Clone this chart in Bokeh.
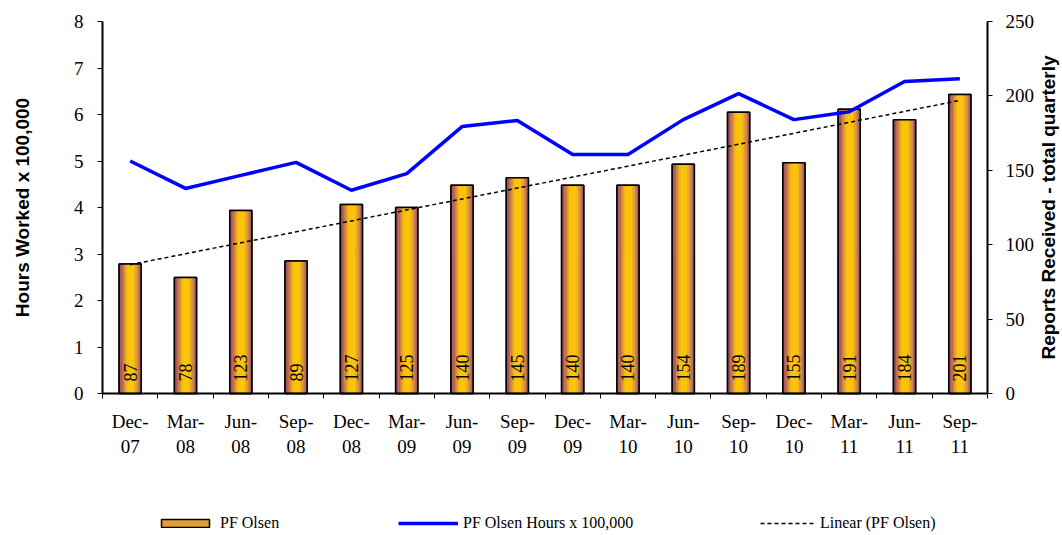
import math
import numpy as np
from bokeh.plotting import figure
from bokeh.models import Range1d, LinearAxis, FixedTicker, Legend, LegendItem, Label
from bokeh.core.properties import value
from bokeh.embed import file_html
from bokeh.resources import INLINE

categories = ["Dec-07", "Mar-08", "Jun-08", "Sep-08", "Dec-08", "Mar-09", "Jun-09", "Sep-09",
              "Dec-09", "Mar-10", "Jun-10", "Sep-10", "Dec-10", "Mar-11", "Jun-11", "Sep-11"]
tick_labels = ["Dec-\n07", "Mar-\n08", "Jun-\n08", "Sep-\n08", "Dec-\n08", "Mar-\n09", "Jun-\n09", "Sep-\n09",
               "Dec-\n09", "Mar-\n10", "Jun-\n10", "Sep-\n10", "Dec-\n10", "Mar-\n11", "Jun-\n11", "Sep-\n11"]
reports = [87, 78, 123, 89, 127, 125, 140, 145, 140, 140, 154, 189, 155, 191, 184, 201]
hours = [5.0, 4.41, 4.69, 4.97, 4.37, 4.73, 5.74, 5.87, 5.14, 5.14, 5.89, 6.45, 5.89, 6.06, 6.71, 6.77]
left_ticks = [0, 1, 2, 3, 4, 5, 6, 7, 8]
right_ticks = [0, 50, 100, 150, 200, 250]
LEFT_MAX = 8
RIGHT_MAX = 250
left_title = "Hours Worked x 100,000"
right_title = "Reports Received - total quarterly"

n = len(categories)
centers = np.arange(n) + 0.5
BAR_W = 0.4

SERIF = "Liberation Serif"
SANS = "Liberation Sans"

# canvas and plot-area placement (pixels)
W, H = 1062, 535
PL, PR = 102, 987        # left / right axis columns
PT, PZ = 21, 393         # top tick row / zero row
ppx = (PR - PL) / n      # pixels per category
ppy = (PZ - PT) / LEFT_MAX
ppr = (PZ - PT) / RIGHT_MAX

p = figure(width=W, height=H,
           x_range=Range1d(-PL / ppx, n + (W - PR) / ppx),
           y_range=Range1d(-(H - PZ) / ppy, LEFT_MAX + PT / ppy),
           output_backend="svg", toolbar_location=None,
           min_border_left=0, min_border_right=0, min_border_top=0, min_border_bottom=0)
p.extra_y_ranges = {"rep": Range1d(-(H - PZ) / ppr, RIGHT_MAX + PT / ppr)}
p.xgrid.visible = False
p.ygrid.visible = False
p.outline_line_color = None
p.background_fill_color = "white"

# gradient bars: base (legend swatch), strips, outline
base = p.vbar(x=centers, top=reports, width=BAR_W, bottom=0, y_range_name="rep",
              fill_color="#E0A030", line_color="black", line_width=1.5)

stops = [(0.0, (135, 58, 108)), (0.16, (185, 105, 85)), (0.38, (255, 196, 8)),
         (0.64, (255, 200, 8)), (0.84, (212, 140, 75)), (1.0, (138, 68, 110))]

def grad(t):
    for (t0, c0), (t1, c1) in zip(stops[:-1], stops[1:]):
        if t0 <= t <= t1:
            f = (t - t0) / (t1 - t0)
            c = [int(round(a + (b - a) * f)) for a, b in zip(c0, c1)]
            return "#%02x%02x%02x" % tuple(c)
    return "#%02x%02x%02x" % stops[-1][1]

NSTRIP = 16
sw = BAR_W / NSTRIP
for k in range(NSTRIP):
    t = (k + 0.5) / NSTRIP
    p.vbar(x=centers - BAR_W / 2 + (k + 0.5) * sw, top=reports, width=sw * 1.15, bottom=0,
           y_range_name="rep", fill_color=grad(t), line_color=None)

p.vbar(x=centers, top=reports, width=BAR_W, bottom=0, y_range_name="rep",
       fill_color=None, line_color="black", line_width=1.5)

# linear trend of reports
slope, intercept = np.polyfit(np.arange(n), reports, 1)
trend = intercept + slope * np.arange(n)
tr = p.line(x=centers, y=trend, y_range_name="rep", line_color="black", line_width=1.5,
            line_dash="4 3")

hr = p.line(x=centers, y=hours, line_color="#0000FF", line_width=3.5)

# bar value labels
p.text(x=centers, y=[0] * n, text=[str(v) for v in reports], y_range_name="rep",
       angle=math.pi / 2, text_align="left", text_baseline="middle", y_offset=-12,
       text_font=value(SERIF), text_font_size="18px", text_color="black")

# x axis (drawn at zero)
xa = p.xaxis[0]
xa.fixed_location = 0
xa.bounds = (0, n)
xa.ticker = FixedTicker(ticks=list(centers), minor_ticks=list(range(n + 1)))
xa.major_label_overrides = {float(c): lab for c, lab in zip(centers, tick_labels)}
xa.major_tick_line_color = None
xa.major_tick_out = 0
xa.major_tick_in = 0
xa.minor_tick_out = 5
xa.minor_tick_in = 0
xa.minor_tick_line_color = "black"
xa.minor_tick_line_width = 1
xa.axis_line_width = 2
xa.axis_line_color = "black"
xa.major_label_text_font = SERIF
xa.major_label_text_font_size = "19px"
xa.major_label_text_color = "black"
xa.major_label_standoff = 12

# left axis
ya = p.yaxis[0]
ya.fixed_location = 0
ya.bounds = (0, LEFT_MAX)
ya.ticker = FixedTicker(ticks=left_ticks)
ya.major_tick_out = 5
ya.major_tick_in = 0
ya.minor_tick_line_color = None
ya.axis_line_width = 2
ya.axis_line_color = "black"
ya.major_label_text_font = SERIF
ya.major_label_text_font_size = "19px"
ya.major_label_text_color = "black"
ya.major_label_standoff = 14

# right axis
ra = LinearAxis(y_range_name="rep", ticker=FixedTicker(ticks=right_ticks), bounds=(0, RIGHT_MAX))
ra.fixed_location = n
ra.major_tick_out = 5
ra.major_tick_in = 0
ra.minor_tick_line_color = None
ra.axis_line_width = 2
ra.axis_line_color = "black"
ra.major_label_text_font = SERIF
ra.major_label_text_font_size = "19px"
ra.major_label_text_color = "black"
ra.major_label_standoff = 13
p.add_layout(ra, "right")

# axis titles
p.add_layout(Label(x=-(PL - 22) / ppx, y=LEFT_MAX / 2, text=left_title, angle=math.pi / 2,
                   text_align="center", text_baseline="middle", text_font=SANS,
                   text_font_size="19px", text_font_style="bold", text_color="black"))
p.add_layout(Label(x=n + (1048 - PR) / ppx, y=LEFT_MAX / 2, text=right_title, angle=math.pi / 2,
                   text_align="center", text_baseline="middle", text_font=SANS,
                   text_font_size="19px", text_font_style="bold", text_color="black"))

# legends
def mk_legend(label, rend, x, gw):
    lg = Legend(items=[LegendItem(label=label, renderers=[rend])], location=(x, 3),
                orientation="horizontal", padding=0, margin=0, border_line_color=None,
                background_fill_alpha=0, glyph_width=gw, glyph_height=10, label_height=14,
                label_standoff=5, label_text_font=SERIF, label_text_font_size="16px",
                label_text_color="black")
    p.add_layout(lg)

mk_legend("PF Olsen", base, 155, 60)
mk_legend("PF Olsen Hours x 100,000", hr, 398, 60)
mk_legend("Linear (PF Olsen)", tr, 760, 55)

open("out.html", "w").write(file_html(p, INLINE))
